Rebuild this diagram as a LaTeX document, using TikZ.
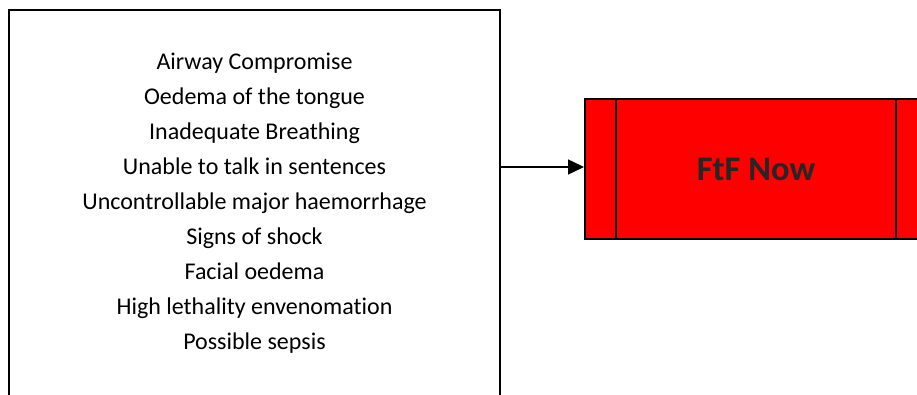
\documentclass[tikz,border=0pt]{standalone}
\usepackage{fontspec}
\setmainfont[Ligatures=NoCommon]{Carlito}
\usetikzlibrary{arrows.meta}

\begin{document}
\begin{tikzpicture}[x=1pt,y=1pt,line width=0.4pt]
\definecolor{ftfred}{RGB}{255,0,0}
\definecolor{ftftext}{RGB}{38,38,38}
\providecommand{\fsign}{\fontsize{24}{35}\selectfont}
\tikzset{signbox/.style={draw=black,line width=2pt,minimum width=491pt,minimum height=387pt,inner sep=0pt,align=center,font=\fsign},procbox/.style={draw=black,line width=2pt,fill=ftfred,minimum width=342pt,minimum height=140pt,inner sep=0pt,font=\fontsize{34.5}{38}\selectfont\bfseries,text=ftftext},flow/.style={-{Triangle[length=16pt,width=15pt]},draw=black,line width=1.5pt}}
\useasboundingbox (0,0) rectangle (917,394);
\clip (0,0) rectangle (917,394);
\node[signbox] (signs) at (254.5,190.5) {Airway Compromise\\Oedema of the tongue\\Inadequate Breathing\\Unable to talk in sentences\\Uncontrollable major haemorrhage\\Signs of shock\\Facial oedema\\High lethality envenomation\\Possible sepsis};
\node[procbox] (ftf) at (756.0,225.0) {FtF Now};
\draw[line width=2pt] ([xshift=32pt]ftf.north west) -- ([xshift=32pt]ftf.south west);
\draw[line width=2pt] ([xshift=-32pt]ftf.north east) -- ([xshift=-32pt]ftf.south east);
\draw[flow] (signs.east |- 0,227) -- (ftf.west |- 0,227);
\end{tikzpicture}
\end{document}
